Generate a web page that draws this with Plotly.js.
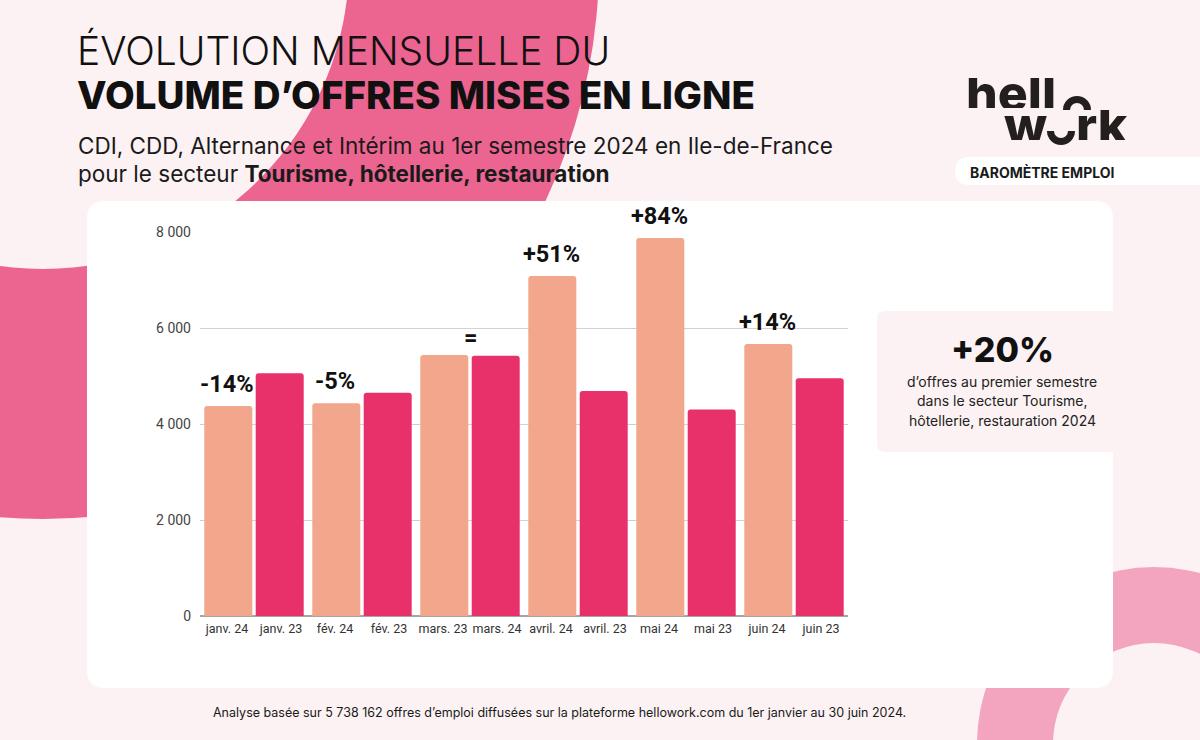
<!DOCTYPE html>
<html>
<head>
<meta charset="utf-8">
<script src="https://cdn.plot.ly/plotly-3.0.1.min.js"></script>
<style>
html,body{margin:0;padding:0;background:#fcf2f3;}
#chart{width:1200px;height:740px;}
</style>
</head>
<body>
<div id="chart"></div>
<script>
// ---- data ----
const categories = ['janv. 24','janv. 23','fév. 24','fév. 23','mars. 23','mars. 24','avril. 24','avril. 23','mai 24','mai 23','juin 24','juin 23'];
const values = [4375, 5056, 4430, 4653, 5437, 5424, 7083, 4687, 7875, 4300, 5667, 4951];
const pctLabels = ['-14%', '-5%', '=', '+51%', '+84%', '+14%'];
const yTickVals = [0, 2000, 4000, 6000, 8000];
const yTickText = ['0', '2 000', '4 000', '6 000', '8 000'];
const titleLine1 = 'ÉVOLUTION MENSUELLE DU';
const titleLine2 = 'VOLUME D’OFFRES MISES EN LIGNE';
const subLine1 = 'CDI, CDD, Alternance et Intérim au 1er semestre 2024 en Ile-de-France';
const subLine2 = 'pour le secteur <b>Tourisme, hôtellerie, restauration</b>';
const keyFigure = '+20%';
const keyLines = ['d’offres au premier semestre', 'dans le secteur Tourisme,', 'hôtellerie, restauration 2024'];
const footer = 'Analyse basée sur 5 738 162 offres d’emploi diffusées sur la plateforme hellowork.com du 1er janvier au 30 juin 2024.';
const badge = 'BAROMÈTRE EMPLOI';

// ---- geometry helpers (pixels -> paper) ----
const W = 1200, H = 740, ML = 200, MR = 352, MT = 232, MB = 124;
const PW = W - ML - MR, PH = H - MT - MB;
const X = p => (p - ML) / PW;
const Y = p => (H - MB - p) / PH;
const pt = (x, y) => X(x).toFixed(5) + ',' + Y(y).toFixed(5);

function rrect(x0, y0, x1, y1, r) {
  return 'M' + pt(x0 + r, y0) + ' L' + pt(x1 - r, y0) + ' Q' + pt(x1, y0) + ' ' + pt(x1, y0 + r) +
    ' L' + pt(x1, y1 - r) + ' Q' + pt(x1, y1) + ' ' + pt(x1 - r, y1) +
    ' L' + pt(x0 + r, y1) + ' Q' + pt(x0, y1) + ' ' + pt(x0, y1 - r) +
    ' L' + pt(x0, y0 + r) + ' Q' + pt(x0, y0) + ' ' + pt(x0 + r, y0) + ' Z';
}
function circle(cx, cy, r, color) {
  return {type: 'circle', xref: 'paper', yref: 'paper', layer: 'below',
    x0: X(cx - r), x1: X(cx + r), y0: Y(cy + r), y1: Y(cy - r),
    fillcolor: color, line: {width: 0}};
}
function halfArc(cx, cy, r, up) {
  const k = 0.5523, s = up ? -1 : 1;
  return 'M' + pt(cx - r, cy) + ' C' + pt(cx - r, cy + s * k * r) + ' ' + pt(cx - k * r, cy + s * r) + ' ' + pt(cx, cy + s * r) +
    ' C' + pt(cx + k * r, cy + s * r) + ' ' + pt(cx + r, cy + s * k * r) + ' ' + pt(cx + r, cy);
}

const BG = '#fcf2f3';
const shapes = [
  circle(43, -37, 556, '#ec6590'),
  circle(43, -37, 306, BG),
  circle(1154, 744, 177, '#f3a5bf'),
  circle(1154, 744, 101, BG),
  {type: 'path', xref: 'paper', yref: 'paper', layer: 'below', path: rrect(87, 201, 1113, 688, 18), fillcolor: '#ffffff', line: {width: 0}},
  {type: 'path', xref: 'paper', yref: 'paper', layer: 'below', path: rrect(877, 311, 1125, 452, 8), fillcolor: BG, line: {width: 0}},
  {type: 'path', xref: 'paper', yref: 'paper', layer: 'below', path: rrect(955, 157, 1230, 185, 14), fillcolor: '#ffffff', line: {width: 0}},
  {type: 'path', xref: 'paper', yref: 'paper', layer: 'above', path: halfArc(1077, 110, 10.5, true), line: {color: '#231f1c', width: 7}},
  {type: 'path', xref: 'paper', yref: 'paper', layer: 'above', path: halfArc(1061, 131, 10.5, false), line: {color: '#231f1c', width: 7}}
];

// bar colours / small offsets to pair the bars
const colors = categories.map((c, i) => i % 2 === 0 ? '#f2a68b' : '#e8306a');
const BW = 0.889;
const offsets = categories.map((c, i) => -BW / 2 + (i % 2 === 0 ? 0.024 : -0.024));

const trace = {
  type: 'bar', x: categories, y: values,
  marker: {color: colors, line: {width: 0}},
  width: BW, offset: offsets,
  hoverinfo: 'skip', cliponaxis: false
};

const ann = [];
function txt(text, x, y, size, opts) {
  opts = opts || {};
  const a = {text: text, xref: 'paper', yref: 'paper', x: X(x), y: Y(y),
    xanchor: opts.xanchor || 'left', yanchor: 'middle', showarrow: false,
    font: {family: opts.family || 'Inter, sans-serif', size: size, color: opts.color || '#111111', weight: opts.weight || 400}};
  if (opts.height) { a.height = opts.height; a.valign = 'middle'; }
  ann.push(a);
}
txt(titleLine1, 75, 51, 39, {weight: 300});
txt(titleLine2, 75, 95, 38.5, {weight: 800});
txt(subLine1, 76, 145, 22.5, {color: '#1a1a1a'});
txt(subLine2, 76, 174, 22.5, {color: '#1a1a1a'});
txt('hell', 964, 93, 50, {weight: 800, color: '#231f1c', height: 30});
txt('w', 1002, 125, 50, {weight: 800, color: '#231f1c', height: 30});
txt('rk', 1074, 125, 50, {weight: 800, color: '#231f1c', height: 30});
txt(badge, 968, 172, 14, {weight: 700, color: '#1a1a1a'});
txt(keyFigure, 1002, 349, 34, {weight: 800, xanchor: 'center', color: '#111111'});
keyLines.forEach((l, i) => txt(l, 1002, 381 + i * 19.5, 14, {xanchor: 'center', color: '#222222'}));
txt(footer, 559, 712, 12.5, {xanchor: 'center', color: '#1a1a1a'});

// percentage labels above the 2024-coloured bar of each pair
pctLabels.forEach((lab, k) => {
  const i = 2 * k;
  ann.push({text: '<b>' + lab + '</b>', xref: 'x', yref: 'y',
    x: lab === '=' ? i + 0.5 : i, y: values[i],
    xanchor: 'center', yanchor: 'bottom', yshift: lab === '=' ? 1 : 6, showarrow: false,
    font: {family: 'Roboto, sans-serif', size: 23.5, color: '#111111'}});
});

const layout = {
  width: W, height: H,
  margin: {l: ML, r: MR, t: MT, b: MB, pad: 0},
  paper_bgcolor: BG, plot_bgcolor: 'rgba(0,0,0,0)',
  showlegend: false, barmode: 'overlay', barcornerradius: 3,
  xaxis: {type: 'category', categoryorder: 'array', categoryarray: categories,
    range: [-0.5, categories.length - 0.5], showgrid: false, zeroline: false,
    showline: false, ticks: '', ticklabelstandoff: 3,
    tickfont: {family: 'Roboto, sans-serif', size: 12.5, color: '#333333'}, fixedrange: true},
  yaxis: {range: [0, 8000], tickvals: yTickVals, ticktext: yTickText,
    showgrid: true, gridcolor: '#d2d2d2', gridwidth: 1,
    zeroline: true, zerolinecolor: '#a6a6a6', zerolinewidth: 1.5,
    showline: false, ticks: '', ticklabelstandoff: 8,
    tickfont: {family: 'Roboto, sans-serif', size: 14, color: '#444444'}, fixedrange: true},
  shapes: shapes,
  annotations: ann
};

Plotly.newPlot('chart', [trace], layout, {displayModeBar: false, staticPlot: true});
</script>
</body>
</html>
